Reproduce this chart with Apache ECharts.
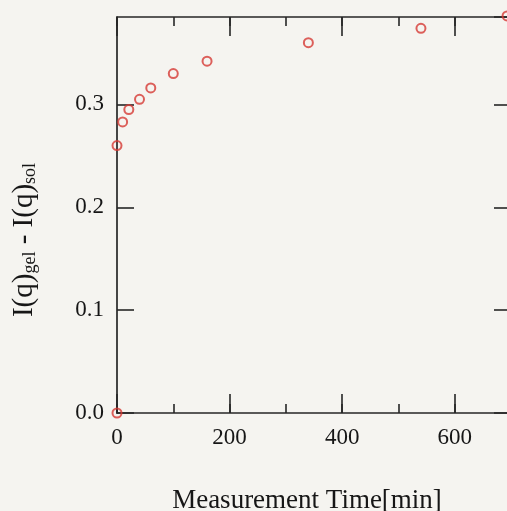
<!DOCTYPE html>
<html>
<head>
<meta charset="utf-8">
<script src="https://cdn.jsdelivr.net/npm/echarts@6/dist/echarts.min.js"></script>
<style>
html,body{margin:0;padding:0;background:#f5f4f0;}
#c{width:507px;height:511px;}
</style>
</head>
<body>
<div id="c"></div>
<script>
// Data
const times = [0, 0, 10, 21, 40, 60, 100, 160, 340, 540, 693];
const values = [0, 0.260, 0.283, 0.295, 0.305, 0.316, 0.330, 0.342, 0.360, 0.374, 0.386];
const xTickLabels = [0, 200, 400, 600];
const yTickLabels = ['0.0', '0.1', '0.2', '0.3'];

const FONT = '"Liberation Serif", "Times New Roman", serif';
const AXIS_COLOR = '#262626';
const TEXT_COLOR = '#161616';
const POINT_COLOR = '#d63a35';

const points = times.map((t, i) => [t, values[i]]);

function xAxisBase(pos, major, withLine) {
  return {
    type: 'value', position: pos, min: 0, max: 700,
    interval: major ? 200 : 100,
    axisLine: { show: withLine, onZero: false, lineStyle: { color: AXIS_COLOR, width: 1.7 } },
    axisTick: { show: true, inside: true, length: major ? 19 : 9, lineStyle: { color: AXIS_COLOR, width: 1.6 } },
    axisLabel: { show: false },
    splitLine: { show: false }
  };
}

const xBottomMajor = xAxisBase('bottom', true, false);
xBottomMajor.axisLabel = {
  show: true, margin: 13, fontSize: 23, fontFamily: FONT, color: TEXT_COLOR,
  showMaxLabel: false,
  formatter: v => (xTickLabels.indexOf(v) >= 0 ? String(v) : '')
};
xBottomMajor.name = 'Measurement Time[min]';
xBottomMajor.nameLocation = 'middle';
xBottomMajor.nameGap = 74;
xBottomMajor.nameTextStyle = { fontSize: 27, fontFamily: FONT, color: TEXT_COLOR, padding: [0, 14, 0, 0] };

function yAxisBase(pos) {
  return {
    type: 'value', position: pos, min: 0, max: 0.385, interval: 0.1,
    axisLine: { show: true, onZero: false, lineStyle: { color: AXIS_COLOR, width: 1.7 } },
    axisTick: { show: true, inside: true, length: 17, lineStyle: { color: AXIS_COLOR, width: 1.6 } },
    axisLabel: { show: false },
    splitLine: { show: false }
  };
}
const yLeft = yAxisBase('left');
yLeft.axisLabel = {
  show: true, margin: 13, fontSize: 23, fontFamily: FONT, color: TEXT_COLOR,
  showMaxLabel: false,
  formatter: v => {
    const s = v.toFixed(1);
    return (yTickLabels.indexOf(s) >= 0 && Math.abs(v - Math.round(v * 10) / 10) < 1e-9) ? s : '';
  }
};
yLeft.name = '{m|I(q)}{s|gel}{m| - I(q)}{s|sol}';
yLeft.nameLocation = 'middle';
yLeft.nameGap = 78;
yLeft.nameTextStyle = {
  fontFamily: FONT, color: TEXT_COLOR, padding: [0, 50, 0, 0],
  rich: {
    m: { fontSize: 29, lineHeight: 30, verticalAlign: 'middle', fontFamily: FONT, color: TEXT_COLOR },
    s: { fontSize: 18, lineHeight: 15, verticalAlign: 'bottom', fontFamily: FONT, color: TEXT_COLOR }
  }
};
const yRight = yAxisBase('right');

const chart = echarts.init(document.getElementById('c'), null, { renderer: 'canvas' });
chart.setOption({
  backgroundColor: '#f5f4f0',
  animation: false,
  grid: { left: 117, top: 17, right: -4, bottom: 98, containLabel: false, outerBoundsMode: 'none' },
  xAxis: [
    xAxisBase('bottom', false, true),
    xBottomMajor,
    xAxisBase('top', false, true),
    xAxisBase('top', true, false)
  ],
  yAxis: [yLeft, yRight],
  series: [{
    type: 'scatter',
    xAxisIndex: 0, yAxisIndex: 0,
    data: points,
    clip: false,
    symbol: 'circle',
    symbolSize: 9,
    itemStyle: { color: 'rgba(0,0,0,0)', borderColor: POINT_COLOR, borderWidth: 2 }
  }]
});
</script>
</body>
</html>
